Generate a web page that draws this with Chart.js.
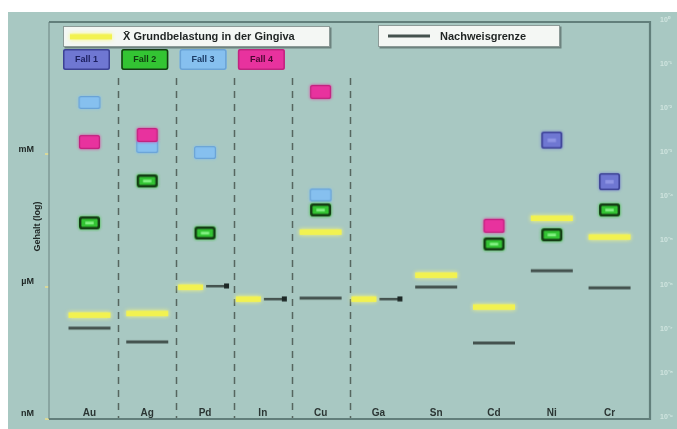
<!DOCTYPE html>
<html><head><meta charset="utf-8">
<script src="https://cdn.jsdelivr.net/npm/chart.js@4.4.1/dist/chart.umd.min.js"></script>
<style>html,body{margin:0;padding:0;background:#fff;overflow:hidden}canvas{display:block}</style>
</head><body>
<canvas id="c" width="677" height="429"></canvas>
<script>
// ---------- data (mol) ----------
const categories = ['Au','Ag','Pd','In','Cu','Ga','Sn','Cd','Ni','Cr'];
const meanGingiva    = [2.3e-7, 2.5e-7, 9.8e-7, 5.3e-7, 1.75e-5, 5.3e-7, 1.85e-6, 3.5e-7, 3.6e-5, 1.35e-5];
const detectionLimit = [1.15e-7, 5.6e-8, 1.04e-6, 5.3e-7, 5.5e-7, 5.3e-7, 9.8e-7, 5.3e-8, 2.3e-6, 9.4e-7];
const fall1 = [null, null, null, null, null, null, null, null, 2.1e-3, 2.4e-4];
const fall2 = [2.8e-5, 2.5e-4, 1.65e-5, null, 5.5e-5, null, null, 9.3e-6, 1.5e-5, 5.5e-5];
const fall3 = [1.5e-2, 1.5e-3, 1.1e-3, null, 1.2e-4, null, null, null, null, null];
const fall4 = [1.9e-3, 2.75e-3, null, null, 2.6e-2, null, null, 2.4e-5, null, null];
const leftTicks = [1e-9, 1e-6, 1e-3];
const leftTickLabels = ['nM', 'µM', 'mM'];
const rightTicks = [1e-9, 1e-8, 1e-7, 1e-6, 1e-5, 1e-4, 1e-3, 1e-2, 1e-1, 1];
const rightTickLabels = ['10⁻⁹','10⁻⁸','10⁻⁷','10⁻⁶','10⁻⁵','10⁻⁴','10⁻³','10⁻²','10⁻¹','10⁰'];
const separatedGroup = ['Au','Ag','Pd','In','Cu']; // dashed separator after each
const yTitle = 'Gehalt (log)';
const meanLabel = 'X\u0304 Grundbelastung in der Gingiva';
const limitLabel = 'Nachweisgrenze';
const fallLabels = ['Fall 1','Fall 2','Fall 3','Fall 4'];

// ---------- styles ----------
const FONT = "'Liberation Sans', Arial, sans-serif";
const BG = '#a8c8c2';
const fallStyles = [
  {fill:'#6f77d2', stroke:'#3d4294', lw:1.6, hi:'#8e94e4', text:'#1d2060'},
  {fill:'#33c433', stroke:'#143c14', lw:2.4, hi:'#80f080', text:'#0f3a0f'},
  {fill:'#86c0ef', stroke:'#6aa3d6', lw:1.2, hi:null, text:'#1b3b66'},
  {fill:'#e8329e', stroke:'#c0247f', lw:1.2, hi:null, text:'#4a0630'}
];
const YELLOW = '#f2f250', GREY = '#44524e';

function makeCanvas(w, h, draw){ const c = document.createElement('canvas'); c.width = w; c.height = h; draw(c.getContext('2d')); return c; }
function roundPath(ctx, x, y, w, h, r){
  ctx.beginPath(); ctx.moveTo(x+r, y); ctx.lineTo(x+w-r, y); ctx.quadraticCurveTo(x+w, y, x+w, y+r);
  ctx.lineTo(x+w, y+h-r); ctx.quadraticCurveTo(x+w, y+h, x+w-r, y+h); ctx.lineTo(x+r, y+h);
  ctx.quadraticCurveTo(x, y+h, x, y+h-r); ctx.lineTo(x, y+r); ctx.quadraticCurveTo(x, y, x+r, y); ctx.closePath();
}
function boxImage(w, h, s){
  return makeCanvas(w+6, h+6, ctx => {
    ctx.shadowColor = s.fill; ctx.shadowBlur = 3;
    roundPath(ctx, 3, 3, w, h, 2.5); ctx.fillStyle = s.fill; ctx.fill();
    ctx.shadowBlur = 0;
    ctx.lineWidth = s.lw; ctx.strokeStyle = s.stroke;
    roundPath(ctx, 3+s.lw/2, 3+s.lw/2, w-s.lw, h-s.lw, 2); ctx.stroke();
    if (s.hi){ ctx.fillStyle = s.hi; ctx.fillRect(3+w*0.3, 3+h*0.4, w*0.4, h*0.22); }
  });
}
const fallImages = [boxImage(21,17,fallStyles[0]), boxImage(21,13,fallStyles[1]), boxImage(22,13,fallStyles[2]), boxImage(21,14,fallStyles[3])];
const yellowFull = makeCanvas(52, 14, ctx => { ctx.shadowColor='rgba(250,250,120,1)'; ctx.shadowBlur=4; ctx.fillStyle=YELLOW; ctx.fillRect(5,4.5,42,5.5); });
const yellowLeft = makeCanvas(62, 14, ctx => { ctx.shadowColor='rgba(250,250,120,1)'; ctx.shadowBlur=4; ctx.fillStyle=YELLOW; ctx.fillRect(4,4.5,25,5.5); });
const greyFull = makeCanvas(46, 6, ctx => { ctx.fillStyle=GREY; ctx.fillRect(2,1.5,42,3); });
const greyRight = makeCanvas(62, 6, ctx => { ctx.fillStyle=GREY; ctx.fillRect(32,2,21,2.5); ctx.fillStyle='#1d2826'; ctx.fillRect(50,0.5,5,5); });
const isSplit = i => Math.abs(Math.log10(meanGingiva[i]/detectionLimit[i])) < 0.1;

const pts = arr => arr.map((v,i) => v == null ? null : {x:i, y:v}).filter(p => p);

const datasets = [
  {label: fallLabels[3], data: pts(fall4), pointStyle: fallImages[3], order: 1, fs: fallStyles[3]},
  {label: fallLabels[1], data: pts(fall2), pointStyle: fallImages[1], order: 2, fs: fallStyles[1]},
  {label: fallLabels[2], data: pts(fall3), pointStyle: fallImages[2], order: 3, fs: fallStyles[2]},
  {label: fallLabels[0], data: pts(fall1), pointStyle: fallImages[0], order: 4, fs: fallStyles[0]},
  {label: meanLabel, data: pts(meanGingiva), pointStyle: c => (c.raw && isSplit(c.raw.x)) ? yellowLeft : yellowFull, order: 5},
  {label: limitLabel, data: pts(detectionLimit), pointStyle: c => (c.raw && isSplit(c.raw.x)) ? greyRight : greyFull, order: 6}
].map(d => Object.assign({type:'scatter', pointRadius:3, showLine:false, clip:false}, d));

// ---------- plugins ----------
const bgPlugin = {id:'bg', beforeDraw(chart){
  const ctx = chart.ctx; ctx.save();
  ctx.fillStyle = '#ffffff'; ctx.fillRect(0,0,chart.width,chart.height);
  ctx.fillStyle = BG; ctx.fillRect(8,12,chart.width-8,chart.height-12);
  ctx.restore();
}};
const sepPlugin = {id:'sep', beforeDatasetsDraw(chart){
  const ctx = chart.ctx, a = chart.chartArea, xs = chart.scales.x;
  ctx.save(); ctx.strokeStyle = '#56665f'; ctx.lineWidth = 1.5; ctx.setLineDash([7,6]);
  separatedGroup.forEach(c => {
    const i = categories.indexOf(c);
    const x = Math.round(xs.getPixelForValue(i + 0.5)) + 0.5;
    ctx.beginPath(); ctx.moveTo(x, a.top + 56); ctx.lineTo(x, a.bottom); ctx.stroke();
  });
  ctx.restore();
}};
const framePlugin = {id:'frame', afterDatasetsDraw(chart){
  const ctx = chart.ctx, a = chart.chartArea;
  ctx.save();
  ctx.strokeStyle = '#7f9a96'; ctx.lineWidth = 1.5;
  ctx.beginPath(); ctx.moveTo(a.left, a.top); ctx.lineTo(a.left, a.bottom); ctx.stroke();
  ctx.strokeStyle = '#627f7b'; ctx.lineWidth = 2.2;
  ctx.beginPath(); ctx.moveTo(a.left, a.top); ctx.lineTo(a.right, a.top); ctx.lineTo(a.right, a.bottom); ctx.lineTo(a.left, a.bottom); ctx.stroke();
  ctx.restore();
}};
function fitText(ctx, text, maxW, size){
  let s = size; ctx.font = `bold ${s}px ${FONT}`;
  while (ctx.measureText(text).width > maxW && s > 6){ s -= 0.5; ctx.font = `bold ${s}px ${FONT}`; }
}
function panel(ctx, x, y, w, h){
  ctx.fillStyle = 'rgba(60,75,72,0.55)'; ctx.fillRect(x+1.5, y+1.5, w, h);
  ctx.fillStyle = '#f4f7f4'; ctx.fillRect(x, y, w, h);
  ctx.strokeStyle = '#8c9a97'; ctx.lineWidth = 1; ctx.strokeRect(x+0.5, y+0.5, w-1, h-1);
}
const legendPlugin = {id:'boxLegend', afterDraw(chart){
  const ctx = chart.ctx, a = chart.chartArea, ds = chart.data.datasets;
  const byLabel = l => ds.find(d => d.label === l);
  ctx.save();
  ctx.textBaseline = 'middle';
  // mean legend
  panel(ctx, a.left + 14, a.top + 4, 267, 21);
  ctx.drawImage(yellowFull, a.left + 14 + 2, a.top + 4 + 3.5);
  ctx.fillStyle = '#1f2423'; fitText(ctx, byLabel(meanLabel).label, 202, 11);
  ctx.textAlign = 'left'; ctx.fillText(byLabel(meanLabel).label, a.left + 74, a.top + 15);
  // limit legend
  panel(ctx, a.left + 329, a.top + 3, 182, 22);
  ctx.drawImage(greyFull, a.left + 337, a.top + 11);
  ctx.fillStyle = '#1f2423'; fitText(ctx, byLabel(limitLabel).label, 100, 11);
  ctx.fillText(byLabel(limitLabel).label, a.left + 391, a.top + 14.5);
  // Fall boxes
  fallLabels.forEach((l, k) => {
    const d = byLabel(l), s = d.fs;
    const x = a.left + 14 + k * 58.3, y = a.top + 27, w = 47, h = 21;
    roundPath(ctx, x, y, w, h, 2); ctx.fillStyle = s.fill; ctx.fill();
    ctx.lineWidth = 1.5; ctx.strokeStyle = s.stroke; roundPath(ctx, x+0.75, y+0.75, w-1.5, h-1.5, 2); ctx.stroke();
    ctx.fillStyle = s.text; ctx.font = `bold 9px ${FONT}`; ctx.textAlign = 'center';
    ctx.fillText(d.label, x + w/2, y + h/2 + 0.5);
  });
  // y title
  ctx.translate(38, (a.top + a.bottom)/2 + 6); ctx.rotate(-Math.PI/2);
  ctx.textAlign = 'center'; ctx.fillStyle = '#222a28'; ctx.font = `bold 9px ${FONT}`;
  ctx.fillText(yTitle, 0, 0);
  ctx.restore();
}};

const noPad = s => { s.paddingTop = 0; s.paddingBottom = 0; s.paddingLeft = 0; s.paddingRight = 0; };

new Chart(document.getElementById('c'), {
  data: {datasets},
  options: {
    responsive: false, animation: false, events: [],
    layout: {padding: {left: 8, top: 22, right: 0, bottom: 0}},
    plugins: {legend: {display: false}, tooltip: {enabled: false}},
    scales: {
      x: {type: 'linear', min: -0.7, max: 9.7,
          afterBuildTicks: s => { s.ticks = categories.map((c, i) => ({value: i})); },
          ticks: {callback: v => categories[v] ?? '', padding: 0, mirror: true, autoSkip: false, maxRotation: 0,
                  font: {family: FONT, size: 10, weight: 'bold'}, color: '#2b3533'},
          grid: {display: false, drawTicks: false}, border: {display: false},
          afterFit: s => { s.height = 10; noPad(s); }},
      y: {type: 'logarithmic', position: 'left', min: 1e-9, max: 1,
          afterBuildTicks: s => { s.ticks = leftTicks.map(v => ({value: v})); },
          ticks: {callback: (v, i) => leftTickLabels[i], padding: 11, autoSkip: false, labelOffset: -5,
                  font: {family: FONT, size: 9, weight: 'bold'}, color: '#1e2624'},
          grid: {drawOnChartArea: false, drawTicks: true, tickLength: 4, color: '#d9d99a', lineWidth: 2}, border: {display: false},
          afterFit: s => { s.width = 41; noPad(s); }},
      y2: {type: 'logarithmic', position: 'right', min: 1e-9, max: 1,
          afterBuildTicks: s => { s.ticks = rightTicks.map(v => ({value: v})); },
          ticks: {callback: (v, i) => rightTickLabels[i], padding: 10, autoSkip: false, labelOffset: -2,
                  font: {family: FONT, size: 7, weight: 'bold'}, color: 'rgba(235,248,244,0.6)'},
          grid: {display: false, drawTicks: false}, border: {display: false},
          afterFit: s => { s.width = 27; noPad(s); }}
    }
  },
  plugins: [bgPlugin, sepPlugin, framePlugin, legendPlugin]
});
</script>
</body></html>
